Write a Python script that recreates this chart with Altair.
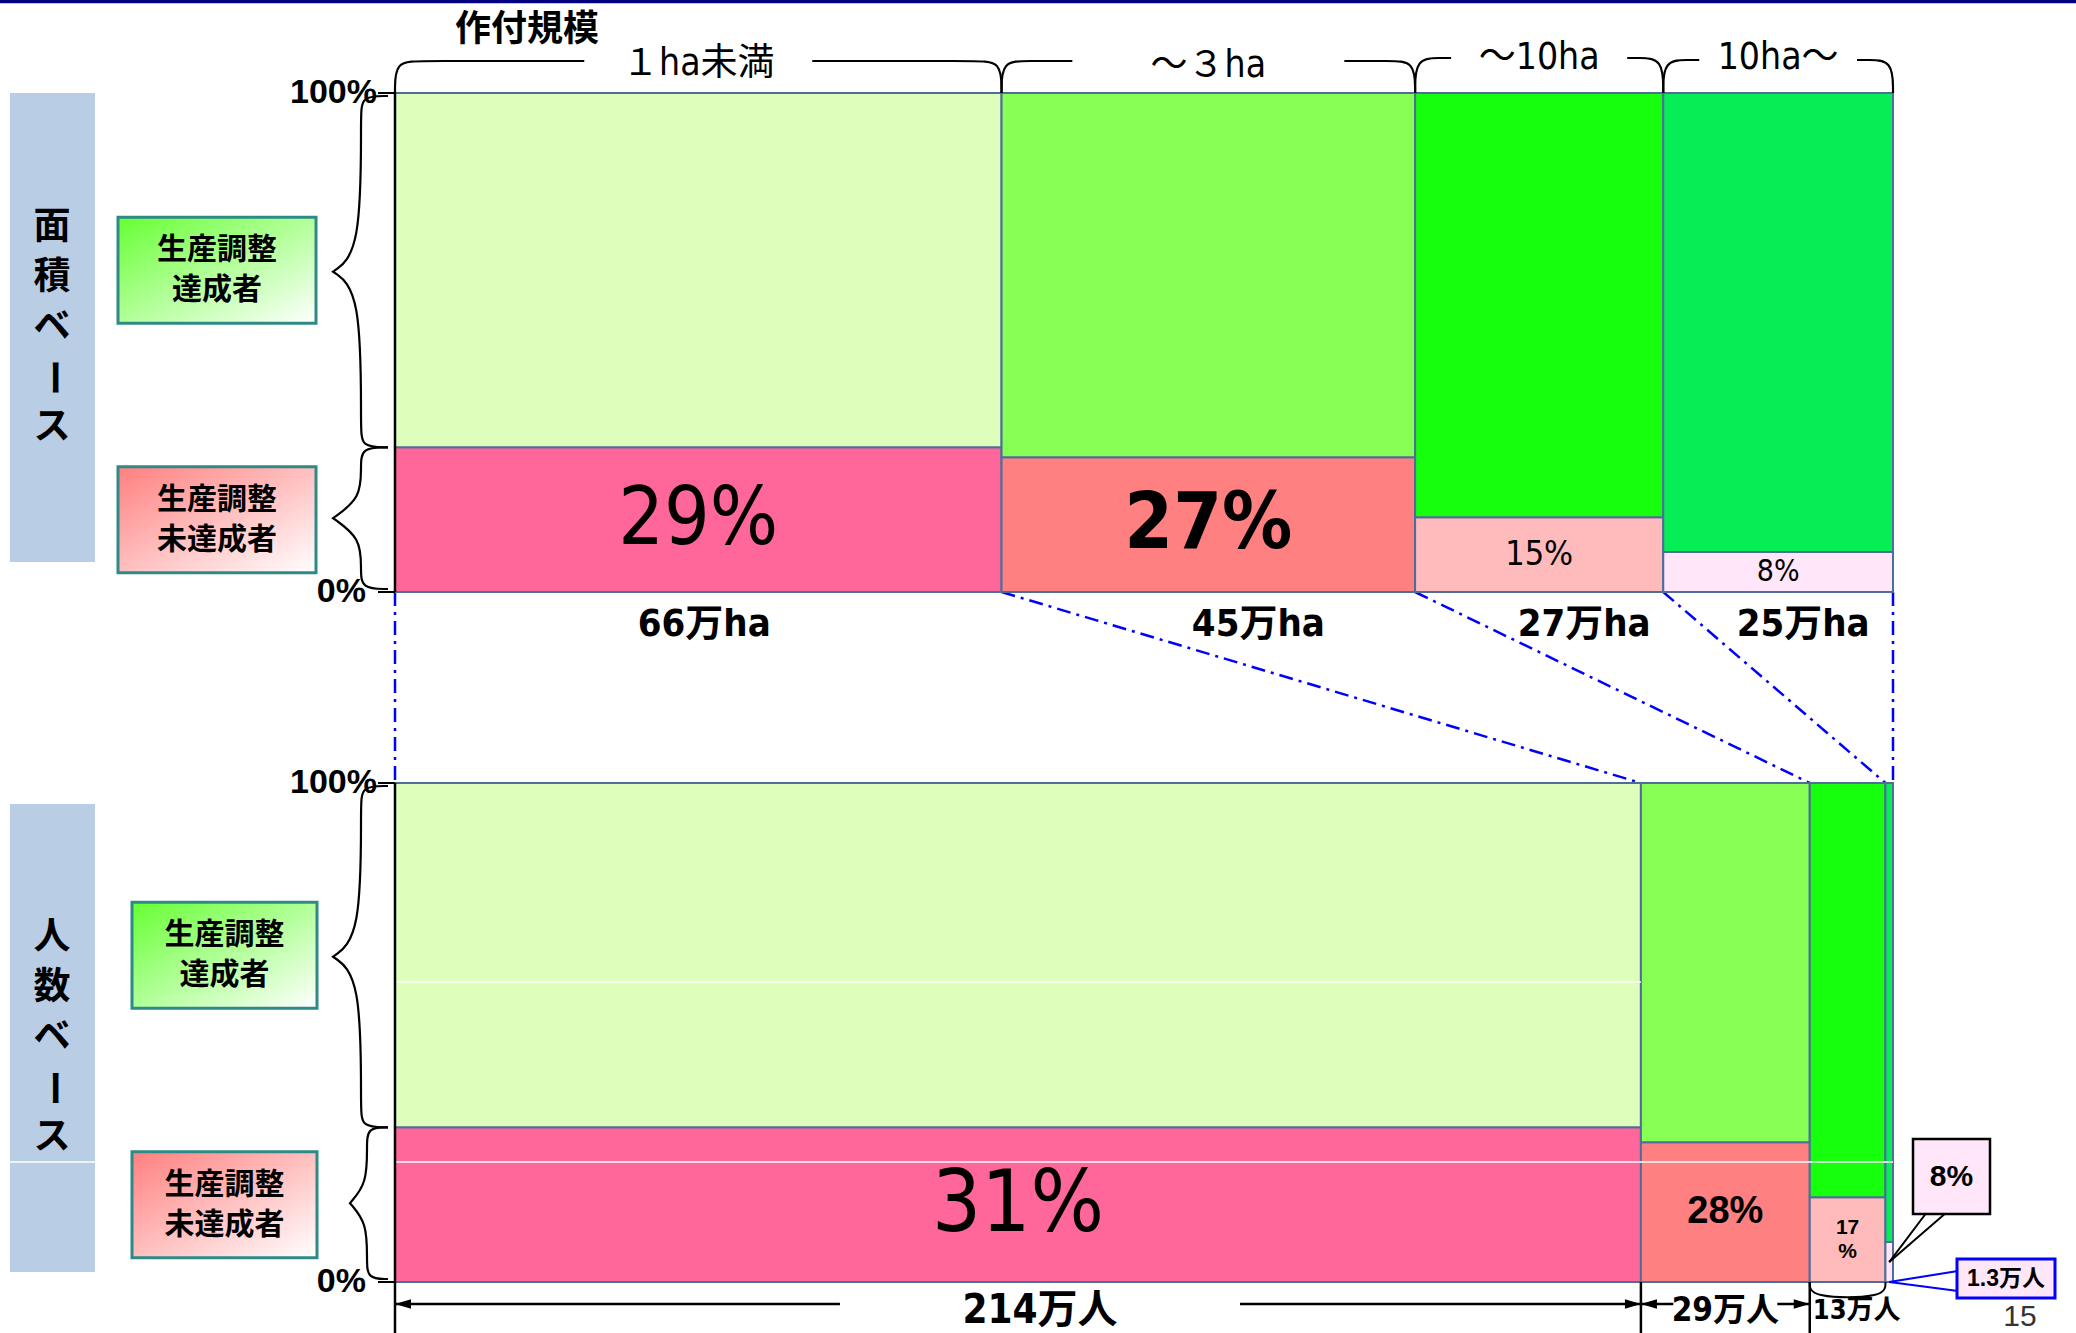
import altair as alt
import numpy as np
import pandas as pd

# ---------------------------------------------------------------- data
size_classes = ["１ha未満", "～３ha", "～10ha", "10ha～"]
area_total = [66, 45, 27, 25]            # 万ha
area_unmet_pct = [29, 27, 15, 8]         # % not meeting the adjustment target
people_total = [214, 29, 13, 1.3]        # 万人
people_unmet_pct = [31, 28, 17, 8]       # % not meeting the adjustment target
area_labels = ["66万ha", "45万ha", "27万ha", "25万ha"]
people_labels = ["214万人", "29万人", "13万人", "1.3万人"]
axis_labels = ["0%", "100%"]
group_labels = ["生産調整\n達成者", "生産調整\n未達成者"]
panel_titles = ["面積ベース", "人数ベース"]
scale_title = "作付規模"
page_number = "15"

# ---------------------------------------------------------------- style
met_colors = ["#DDFFBB", "#88FF55", "#16FF0C", "#05EE55"]
unmet_colors = ["#FF6699", "#FF8080", "#FFBBBB", "#FFE6F8"]
EDGE = "#4F6D9B"
NARROW = "Liberation Sans Narrow, DejaVu Sans Condensed, Noto Sans CJK JP, sans-serif"
SANS = "Liberation Sans, Noto Sans CJK JP, sans-serif"
JP = "Noto Sans CJK JP, sans-serif"

# ---------------------------------------------------------------- layout
W, H = 2076, 1333
LEFT, PLOT_W = 395, 1498          # horizontal extent of each mosaic, px
PX_PER_PCT = 4.99                 # vertical px per percentage point
TOP_BASE, BOTTOM_BASE = 592, 1282 # 0% line of each mosaic, px


def ux(px):
    return (px - LEFT) / PLOT_W


def uy(px):
    return (H - px) / PX_PER_PCT


def dx(px):
    return px / PLOT_W


def dy(px):
    return px / PX_PER_PCT


XS = alt.Scale(domain=[ux(0), ux(W)], nice=False, zero=False)
YS = alt.Scale(domain=[uy(H), uy(0)], nice=False, zero=False)


def enc_xy():
    return dict(x=alt.X("x:Q", scale=XS, axis=None),
                y=alt.Y("y:Q", scale=YS, axis=None))


def text(x, y, s, size, weight="normal", font=NARROW, align="center",
         angle=0, line_height=None, color="black"):
    props = dict(fontSize=size, fontWeight=weight, font=font, align=align,
                 baseline="middle", color=color, lineBreak="\n")
    if angle:
        props["angle"] = angle
    n_breaks = s.count("\n")
    if n_breaks:
        lh = line_height or size * 1.2
        props["lineHeight"] = lh
        y = y + dy(n_breaks * lh / 2)      # centre the whole block on y
    df = pd.DataFrame({"x": [x], "y": [y], "t": [s]})
    return alt.Chart(df).mark_text(**props).encode(**enc_xy(), text="t:N")


def seg(x0, y0, x1, y1, color="black", width=2.0, dash=None):
    props = dict(color=color, strokeWidth=width)
    if dash:
        props["strokeDash"] = dash
    df = pd.DataFrame({"x": [x0], "y": [y0], "x2": [x1], "y2": [y1]})
    return alt.Chart(df).mark_rule(**props).encode(
        **enc_xy(), x2=alt.X2("x2"), y2=alt.Y2("y2"))


def rect(x0, y0, x1, y1, **props):
    df = pd.DataFrame({"x": [x0], "y": [y0], "x2": [x1], "y2": [y1]})
    return alt.Chart(df).mark_rect(**props).encode(
        **enc_xy(), x2=alt.X2("x2"), y2=alt.Y2("y2"))


def curve(points, color="black", width=2.2):
    df = pd.DataFrame({"x": [p[0] for p in points],
                       "y": [p[1] for p in points],
                       "o": list(range(len(points)))})
    return alt.Chart(df).mark_line(interpolate="basis", color=color,
                                   strokeWidth=width).encode(**enc_xy(), order="o:Q")


HEAD_LEFT = "M-1,0L1,-0.6L1,0.6Z"
HEAD_RIGHT = "M1,0L-1,-0.6L-1,0.6Z"


def head(x, y, direction):
    df = pd.DataFrame({"x": [x], "y": [y]})
    shape = HEAD_LEFT if direction == "left" else HEAD_RIGHT
    off = 8 if direction == "left" else -8
    return alt.Chart(df).mark_point(shape=shape, size=256, filled=True, color="black",
                                    opacity=1, strokeWidth=0, xOffset=off).encode(**enc_xy())


def grad(c):
    return {"gradient": "linear", "x1": 0, "y1": 0, "x2": 1, "y2": 1,
            "stops": [{"offset": 0, "color": c}, {"offset": 1, "color": "#FFFFFF"}]}


def vbrace(ya, yb, x_end, x_line, x_tip, r=20):
    ym = (ya + yb) / 2
    pts = [(x_end, ya), (x_line, ya), (x_line, ya - dy(r)), (x_line, ym + dy(r)),
           (x_tip, ym), (x_tip, ym), (x_tip, ym),
           (x_line, ym - dy(r)), (x_line, yb + dy(r)), (x_line, yb), (x_end, yb)]
    return curve([(ux(a), b) for a, b in pts])


# ---------------------------------------------------------------- mosaics
panels = []
for totals, pcts, base_px in [(area_total, area_unmet_pct, TOP_BASE),
                              (people_total, people_unmet_pct, BOTTOM_BASE)]:
    edges = np.concatenate([[0.0], np.cumsum(totals)]) / float(sum(totals))
    panels.append(dict(edges=edges, pct=pcts, base=uy(base_px)))

rows = []
for p in panels:
    for i in range(4):
        lo, hi = p["edges"][i], p["edges"][i + 1]
        b, v = p["base"], p["pct"][i]
        rows.append(dict(x=lo, x2=hi, y=b, y2=b + v, fill=unmet_colors[i]))
        rows.append(dict(x=lo, x2=hi, y=b + v, y2=b + 100, fill=met_colors[i]))
bars = alt.Chart(pd.DataFrame(rows)).mark_rect(stroke=EDGE, strokeWidth=2).encode(
    **enc_xy(), x2=alt.X2("x2"), y2=alt.Y2("y2"), fill=alt.Fill("fill:N", scale=None))

L = []

# slide header rule
L.append(seg(ux(0), uy(1.5), ux(W), uy(1.5), color="#000080", width=3.5))

# side panels with vertical titles
side = [(93, 562, 50), (804, 1272, 50)]
for (t, btm, step), title in zip(side, panel_titles):
    L.append(rect(ux(10), uy(t), ux(95), uy(btm), fill="#B9CDE5"))
    mid = (t + btm) / 2
    for k, ch in enumerate(title):
        L.append(text(ux(52), uy(mid + (k - 2) * step), ch, 37, "bold", JP,
                      angle=90 if ch == "ー" else 0))

# dash-dot connectors between the two mosaics
for e_top, e_bot in zip(panels[0]["edges"], panels[1]["edges"]):
    L.append(seg(e_top, panels[0]["base"], e_bot, panels[1]["base"] + 100,
                 color="#0000FF", width=2.5, dash=[14, 6, 3, 6]))

L.append(bars)

# thin white streaks across the lower mosaic
L.append(seg(ux(LEFT), uy(982), panels[1]["edges"][1], uy(982), color="white", width=1.5))
L.append(seg(ux(10), uy(1162), ux(LEFT + PLOT_W), uy(1162), color="white", width=1.5))

# percentage labels inside the unmet segments
area_pct_style = [dict(size=80), dict(size=78, weight="bold"), dict(size=34), dict(size=30)]
people_pct_style = [dict(size=86), dict(size=38, weight="bold", font=SANS),
                    dict(size=21, weight="bold", font=SANS, line_height=24)]
people_pct_fmt = ["{}%", "{}%", "{}\n%"]
for i, st in enumerate(area_pct_style):
    p = panels[0]
    c = (p["edges"][i] + p["edges"][i + 1]) / 2
    L.append(text(c, p["base"] + p["pct"][i] / 2, f"{p['pct'][i]}%", **st))
for i, st in enumerate(people_pct_style):
    p = panels[1]
    c = (p["edges"][i] + p["edges"][i + 1]) / 2
    L.append(text(c, p["base"] + p["pct"][i] / 2, people_pct_fmt[i].format(p["pct"][i]), **st))

# axis ticks, 0%/100% labels, braces and group boxes
brace_x = [[(388, 361, 333), (388, 361, 333)], [(388, 361, 333), (388, 367, 350)]]
box_x = [(118, 316), (132, 317)]
for j, p in enumerate(panels):
    b = p["base"]
    top = b + 100
    yu = b + p["pct"][0]
    L.append(seg(ux(378), b, ux(LEFT), b, width=2))
    L.append(seg(ux(378), top, ux(LEFT), top, width=2))
    L.append(seg(0, b, 0, top, width=2.5))
    L.append(text(ux(366), b, axis_labels[0], 34, "bold", SANS, align="right"))
    L.append(text(ux(377), top, axis_labels[1], 34, "bold", SANS, align="right"))
    L.append(vbrace(top - dy(3), yu, *brace_x[j][0]))
    L.append(vbrace(yu, b + dy(3), *brace_x[j][1]))
    x0, x1 = box_x[j]
    for ym, lab, col in [((top + yu) / 2, group_labels[0], "#66FF33"),
                         ((yu + b) / 2, group_labels[1], "#FF7F7F")]:
        L.append(rect(ux(x0), ym + dy(53), ux(x1), ym - dy(53), fill=grad(col),
                      stroke="#2E8A86", strokeWidth=3))
        L.append(text(ux((x0 + x1) / 2), ym, lab, 30, "bold", JP, line_height=40))

# size-class brackets above the area mosaic
L.append(text(ux(527), uy(30), scale_title, 36, "bold", JP))
tp = panels[0]
ytop = tp["base"] + 100
bracket_y = [61, 61, 58, 60]
label_y = [64, 66, 58, 58]
gap_px = [114, 136, 96, 80]
for i in range(4):
    lo, hi = tp["edges"][i], tp["edges"][i + 1]
    c = (lo + hi) / 2
    half_px = (hi - lo) * PLOT_W / 2
    g = dx(min(gap_px[i], half_px - 36))
    yb = uy(bracket_y[i])
    r = dx(26)
    L.append(curve([(lo, ytop), (lo, yb), (lo + r, yb), (c - g, yb)]))
    L.append(curve([(hi, ytop), (hi, yb), (hi - r, yb), (c + g, yb)]))
    L.append(text(c, uy(label_y[i]), size_classes[i], 37, "normal", NARROW))

# planted-area totals under the area mosaic
amount_dx = [6, 50, 45, 25]
for i in range(4):
    c = (tp["edges"][i] + tp["edges"][i + 1]) / 2 + dx(amount_dx[i])
    L.append(text(c, uy(625), area_labels[i], 38, "bold", NARROW))

# farmer-count scale under the people mosaic
pp = panels[1]
e, b = pp["edges"], pp["base"]
row_y, lab_y = uy(1304), uy(1311)
for k in range(3):
    L.append(seg(e[k], b, e[k], uy(H), width=2.5))
c1 = (e[0] + e[1]) / 2 + dx(22)
L.append(seg(e[0], row_y, c1 - dx(200), row_y, width=2.5))
L.append(seg(c1 + dx(200), row_y, e[1], row_y, width=2.5))
L.append(head(e[0], row_y, "left"))
L.append(head(e[1], row_y, "right"))
L.append(text(c1, lab_y, people_labels[0], 40, "bold", NARROW))
c2 = (e[1] + e[2]) / 2
L.append(seg(e[1], row_y, c2 - dx(52), row_y, width=2.5))
L.append(seg(c2 + dx(52), row_y, e[2], row_y, width=2.5))
L.append(head(e[1], row_y, "left"))
L.append(head(e[2], row_y, "right"))
L.append(text(c2, lab_y, people_labels[1], 33, "bold", NARROW))
L.append(curve([(e[2], b), (e[2], b - dy(16)), (e[3], b - dy(16)), (e[3], b)], width=2))
L.append(text(e[2] + dx(3), lab_y, people_labels[2], 27, "bold", NARROW, align="left"))

# callouts for the smallest class
c4 = (e[3] + e[4]) / 2
tip_y = b + pp["pct"][3] / 2
L.append(seg(ux(1927), uy(1212), c4, tip_y, width=2))
L.append(seg(ux(1947), uy(1212), c4, tip_y, width=2))
L.append(rect(ux(1913), uy(1139), ux(1990), uy(1214), fill="#FFE6F8",
              stroke="black", strokeWidth=2.5))
L.append(text(ux(1951.5), uy(1177), f"{pp['pct'][3]}%", 30, "bold", SANS))
L.append(seg(c4, b, ux(1958), uy(1271), color="#0000FF", width=2))
L.append(seg(c4, b, ux(1958), uy(1291), color="#0000FF", width=2))
L.append(rect(ux(1957), uy(1259), ux(2055), uy(1298), fill="#FFE6F8",
              stroke="#0000FF", strokeWidth=3))
L.append(text(ux(2006), uy(1279), people_labels[3], 23, "bold", SANS))

# page number
L.append(text(ux(2020), uy(1317), page_number, 30, "normal", SANS, color="#333333"))

chart = alt.layer(*L).properties(
    width=W, height=H, padding=0, background="white",
    autosize=alt.AutoSizeParams(type="none"),
).configure_view(stroke=None)

chart.save("out.html", embed_options={"renderer": "svg", "actions": False})
